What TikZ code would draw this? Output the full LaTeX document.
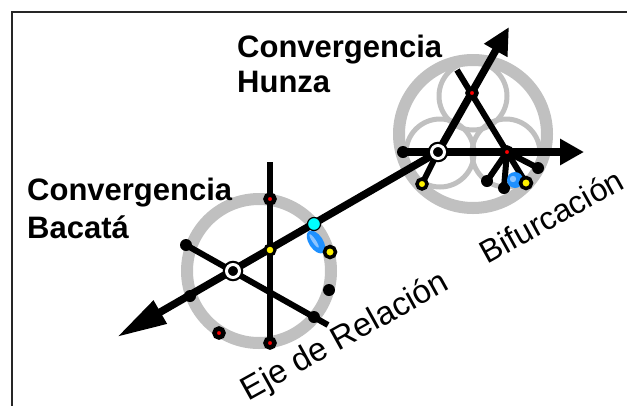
\documentclass[tikz,border=0pt]{standalone}
\usepackage{fontspec}
\setmainfont{Liberation Sans}
\usetikzlibrary{arrows.meta}
\definecolor{ringgray}{HTML}{C0C0C0}
\definecolor{spotblue}{HTML}{1E90FF}
\definecolor{spotlight}{HTML}{8CC4FF}
\definecolor{dotcyan}{HTML}{00FFFF}
\pgfdeclarelayer{lines}
\pgfsetlayers{lines,main}
\tikzset{ring/.style={draw=ringgray,line width=12pt},
  trefoil/.style={draw=ringgray,line width=5pt},
  axisline/.style={line width=7.5pt},
  spoke/.style={line width=6pt},
  hub/.style={circle,draw=black,fill=black,double=white,double distance=3pt,line width=2.2pt,minimum size=13pt,inner sep=0pt},
  reddot/.style={circle,fill=red,draw=black,line width=4.5pt,minimum size=9pt,inner sep=0pt},
  yellowdot/.style={circle,fill=yellow,draw=black,line width=3.5pt,minimum size=10pt,inner sep=0pt},
  blackdot/.style={circle,fill=black,minimum size=12pt,inner sep=0pt},
  cyandot/.style={circle,fill=dotcyan,draw=black,line width=1.2pt,minimum size=13pt,inner sep=0pt},
  convlabel/.style={font=\fontsize{31}{35}\selectfont\bfseries,align=left,inner sep=0pt},
  axislabel/.style={font=\fontsize{33}{38}\selectfont,inner sep=0pt},
}

\begin{document}
\begin{tikzpicture}[x=1pt,y=-1pt]
	\useasboundingbox (0,0) rectangle (627,405);
	\draw[line width=2pt,black!85] (12,406) -- (12,12) -- (628,12);

	% Bacata
	\node[hub] (bacata) at (233,271) {};
	\coordinate (relTip) at (117,337);
	\coordinate (bTop) at (270,162);
	\node[reddot] (bRedTop) at (270,199) {};
	\node[reddot] (bRedBot) at (270,343) {};
	\node[reddot] (bRedLow) at (219,333) {};
	\node[blackdot] (bLeft) at (186,245) {};
	\coordinate (bRight) at (328,325);
	\node[blackdot] (bAxisDot) at (190,296) {};
	\node[blackdot] (bRingDot) at (329,290) {};
	\node[blackdot] (bCrossDot) at (314,317) {};
	\node[yellowdot,line width=3pt] (bCross) at (270,250) {};
	\fill[spotblue,rotate around={34:(316,242)}] (316,242) ellipse [x radius=7,y radius=13];
	\fill[spotlight,rotate around={34:(316,242)}] (315,240) ellipse [x radius=1.8,y radius=8];
	\node[yellowdot,minimum size=11pt] (bYellow) at (330,252) {};
	\node[cyandot] (bCyan) at (314,224) {};

	% Hunza
	\node[hub] (hunza) at (438,152) {};
	\coordinate (hTip) at (509,27);
	\coordinate (hStart) at (457,70);
	\node[reddot] (hRedTop) at (472,93) {};
	\node[reddot] (fan) at (507,152) {};
	\node[blackdot] (hLeft) at (403,152) {};
	\coordinate (bifTip) at (584,152);
	\node[yellowdot] (hYellow) at (422,184) {};
	\node[blackdot] (f1) at (487,181) {};
	\node[blackdot] (f2) at (504,188) {};
	\node[blackdot] (f4) at (538,168) {};
	\fill[spotblue] (515,180) circle (8);
	\fill[spotlight] (513,179) circle (3.2);
	\node[yellowdot,minimum size=11pt] (f3) at (526,183) {};

	\begin{pgfonlayer}{lines}
	\draw[ring] (259,271) circle (72);
	\draw[ring] (473,134) circle (74);
	\foreach \c in {(473,96),(440,153),(506,153)}
		\draw[trefoil] \c circle (34);
	\draw[axisline,-{Triangle[length=50pt,width=25pt]}] (hunza.center) -- (relTip);
	\draw[spoke] (bTop) -- (bRedBot.center);
	\draw[spoke] (bLeft.center) -- (bRight);
	\draw[axisline,-{Triangle[length=27pt,width=25pt]}] (hunza.center) -- (hTip);
	\draw[spoke] (hStart) -- (fan.center);
	\draw[axisline,-{Triangle[length=24pt,width=25pt]}] (hLeft.center) -- (bifTip);
	\draw[spoke] (hunza.center) -- (hYellow.center);
	\foreach \n in {f1,f2,f3,f4}
		\draw[spoke] (fan.center) -- (\n.center);
	\end{pgfonlayer}

	\node[convlabel,anchor=north west] (labHunza) at (237,35) {Convergencia\\Hunza};
	\node[convlabel,anchor=north west] (labBacata) at (27,178) {Convergencia\\[3pt]Bacatá};
	\node[axislabel,rotate=29,anchor=base] (labEje) at (350,345) {Eje de Relación};
	\node[axislabel,font=\fontsize{32}{38}\selectfont,rotate=29,anchor=base] (labBif) at (557,226) {Bifurcación};
\end{tikzpicture}
\end{document}
